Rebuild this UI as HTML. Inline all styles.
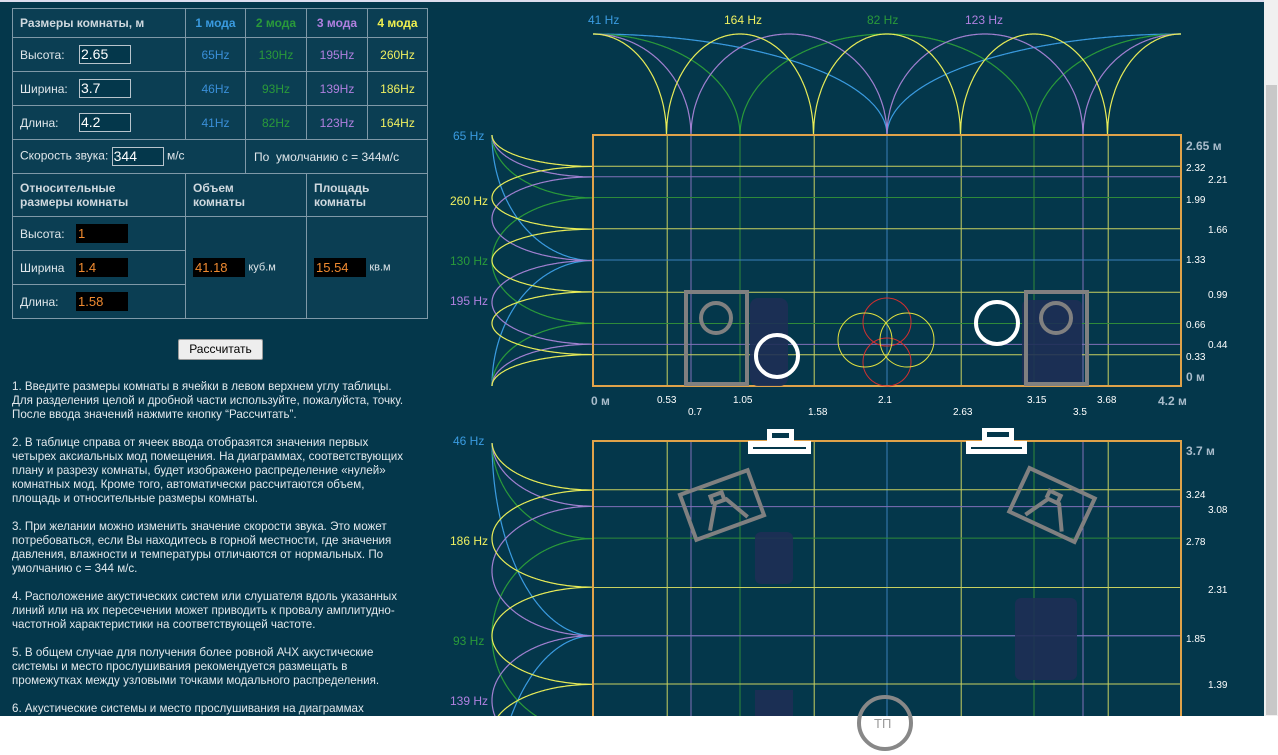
<!DOCTYPE html>
<html><head><meta charset="utf-8"><style>
*{margin:0;padding:0;box-sizing:border-box}
body{width:1278px;height:755px;overflow:hidden;background:#04374b;font-family:"Liberation Sans","DejaVu Sans",sans-serif;color:#dfe6ea;position:relative}
.t{position:absolute;left:12px;top:8px;width:416px;border-collapse:collapse;font-size:12px;background:#0b3e53}
.t td{border:1px solid #7f99a8;padding:0 7px;vertical-align:middle}
.b{font-weight:bold;color:#cfd8de}
.c{text-align:center}
.lb{display:inline-block;width:59px;vertical-align:middle}
.lb2{display:inline-block;width:56px;vertical-align:middle}
.inp{display:inline-block;border:1px solid #b8c4cc;background:#04374b;color:#fff;font-size:14px;height:19px;line-height:17px;padding-left:1px;vertical-align:middle}
.out{display:inline-block;background:#000;color:#f08a30;font-size:13px;height:19px;line-height:19px;padding-left:2px;width:52px;vertical-align:middle}
.txt{position:absolute;left:12px;top:380px;font-size:11.6px;line-height:14px;white-space:nowrap;color:#e2e8ec}
.txt p{margin-bottom:14px}
.btn{position:absolute;left:178px;top:339px;width:85px;height:21px;background:#eee;border:1px solid #999;border-radius:2px;color:#000;font-size:12px;text-align:center;line-height:19px}
</style></head><body>
<table class="t">
<tr style="height:29px"><td class="b" style="width:173px">Размеры комнаты, м</td><td class="b c" style="color:#3a9be0;width:60px">1 мода</td><td class="b c" style="color:#2a9a3a;width:61px">2 мода</td><td class="b c" style="color:#b080e0;width:61px">3 мода</td><td class="b c" style="color:#f0f050">4 мода</td></tr>
<tr style="height:34px"><td><span class="lb">Высота:</span><span class="inp" style="width:52px">2.65</span></td><td class="c" style="color:#3a8fd8">65Hz</td><td class="c" style="color:#2a9a3a">130Hz</td><td class="c" style="color:#b080e0">195Hz</td><td class="c" style="color:#f0f060">260Hz</td></tr>
<tr style="height:34px"><td><span class="lb">Ширина:</span><span class="inp" style="width:52px">3.7</span></td><td class="c" style="color:#3a8fd8">46Hz</td><td class="c" style="color:#2a9a3a">93Hz</td><td class="c" style="color:#b080e0">139Hz</td><td class="c" style="color:#f0f060">186Hz</td></tr>
<tr style="height:34px"><td><span class="lb">Длина:</span><span class="inp" style="width:52px">4.2</span></td><td class="c" style="color:#3a8fd8">41Hz</td><td class="c" style="color:#2a9a3a">82Hz</td><td class="c" style="color:#b080e0">123Hz</td><td class="c" style="color:#f0f060">164Hz</td></tr>
<tr style="height:34px"><td colspan="2">Скорость звука: <span class="inp" style="width:52px">344</span> м/с</td><td colspan="3" style="padding-left:8px">По &nbsp;умолчанию с = 344м/с</td></tr>
<tr style="height:43px"><td class="b" style="line-height:14px">Относительные<br>размеры комнаты</td><td class="b" colspan="2" style="line-height:14px">Объем<br>комнаты</td><td class="b" colspan="2" style="line-height:14px">Площадь<br>комнаты</td></tr>
<tr style="height:34px"><td><span class="lb2">Высота:</span><span class="out">1</span></td><td colspan="2" rowspan="3"><span class="out">41.18</span> <span style="font-size:11px">куб.м</span></td><td colspan="2" rowspan="3"><span class="out">15.54</span> <span style="font-size:11px">кв.м</span></td></tr>
<tr style="height:34px"><td><span class="lb2">Ширина</span><span class="out">1.4</span></td></tr>
<tr style="height:34px"><td><span class="lb2">Длина:</span><span class="out">1.58</span></td></tr>
</table>
<div class="btn">Рассчитать</div>
<div class="txt">
<p>1. Введите размеры комнаты в ячейки в левом верхнем углу таблицы.<br>Для разделения целой и дробной части используйте, пожалуйста, точку.<br>После ввода значений нажмите кнопку “Рассчитать”.</p>
<p>2. В таблице справа от ячеек ввода отобразятся значения первых<br>четырех аксиальных мод помещения. На диаграммах, соответствующих<br>плану и разрезу комнаты, будет изображено распределение «нулей»<br>комнатных мод. Кроме того, автоматически рассчитаются объем,<br>площадь и относительные размеры комнаты.</p>
<p>3. При желании можно изменить значение скорости звука. Это может<br>потребоваться, если Вы находитесь в горной местности, где значения<br>давления, влажности и температуры отличаются от нормальных. По<br>умолчанию с = 344 м/с.</p>
<p>4. Расположение акустических систем или слушателя вдоль указанных<br>линий или на их пересечении может приводить к провалу амплитудно-<br>частотной характеристики на соответствующей частоте.</p>
<p>5. В общем случае для получения более ровной АЧХ акустические<br>системы и место прослушивания рекомендуется размещать в<br>промежутках между узловыми точками модального распределения.</p>
<p>6. Акустические системы и место прослушивания на диаграммах</p>
</div>
<svg id="s" width="1278" height="755" style="position:absolute;left:0;top:0" font-family="Liberation Sans, sans-serif">
<g id="g"></g>
<g fill="#1e2f55" opacity="0.9">
<rect x="750" y="298" width="38" height="88" rx="8"/>
<rect x="1022" y="300" width="60" height="86" rx="6"/>
<rect x="755" y="532" width="38" height="52" rx="6"/>
<rect x="1015" y="598" width="62" height="82" rx="6"/>
<rect x="755" y="690" width="38" height="30"/>
</g>
<g stroke="#808080" stroke-width="4" fill="none">
<rect x="686" y="292" width="61" height="92"/>
<circle cx="716" cy="318" r="15"/>
<rect x="1026" y="292" width="61" height="92"/>
<circle cx="1056" cy="318" r="15"/>
<g transform="translate(722,505) rotate(-20)"><rect x="-36" y="-24" width="72" height="48"/><path d="M-20 20 L-6 -4 L6 -4 L20 20 M-8 -4 L-8 -12 L4 -12 L4 -4"/></g>
<g transform="translate(1052,505) rotate(25)"><rect x="-36" y="-24" width="72" height="48"/><path d="M-20 20 L-6 -4 L6 -4 L20 20 M-8 -4 L-8 -12 L4 -12 L4 -4"/></g>
</g>
<g stroke="#fff" stroke-width="4" fill="none">
<circle cx="777" cy="356" r="21"/>
<circle cx="997" cy="323" r="21"/>
</g>
<g fill="none" stroke-width="1">
<circle cx="887" cy="322" r="24" stroke="#d03030"/>
<circle cx="887" cy="362" r="24" stroke="#d03030"/>
<circle cx="865" cy="340" r="27" stroke="#e0e040"/>
<circle cx="907" cy="340" r="27" stroke="#e0e040"/>
</g>
<g fill="#fff">
<rect x="748" y="441" width="63" height="13"/><rect x="767" y="429" width="27" height="13"/>
<rect x="966" y="441" width="61" height="13"/><rect x="982" y="428" width="32" height="14"/>
</g>
<g fill="#04374b"><rect x="753" y="447" width="53" height="2"/><rect x="772" y="433" width="17" height="5"/><rect x="971" y="447" width="51" height="2"/><rect x="987" y="432" width="22" height="5"/></g>
<g font-size="12">
<text x="588" y="24" fill="#3a9be0">41 Hz</text><text x="724" y="24" fill="#f0f060">164 Hz</text><text x="867" y="24" fill="#2a9a3a">82 Hz</text><text x="965" y="24" fill="#b080e0">123 Hz</text>
<text x="453" y="140" fill="#3a9be0">65 Hz</text><text x="450" y="205" fill="#f0f060">260 Hz</text><text x="450" y="265" fill="#2a9a3a">130 Hz</text><text x="450" y="305" fill="#b080e0">195 Hz</text>
<text x="453" y="445" fill="#3a9be0">46 Hz</text><text x="450" y="545" fill="#f0f060">186 Hz</text><text x="453" y="645" fill="#2a9a3a">93 Hz</text><text x="450" y="705" fill="#b080e0">139 Hz</text>
</g>
<g font-size="10" fill="#fff">
<text x="1186" y="171">2.32</text><text x="1208" y="183">2.21</text><text x="1186" y="203">1.99</text><text x="1208" y="233">1.66</text><text x="1186" y="263">1.33</text><text x="1208" y="298">0.99</text><text x="1186" y="328">0.66</text><text x="1208" y="348">0.44</text><text x="1186" y="360">0.33</text>
<text x="657" y="403">0.53</text><text x="733" y="403">1.05</text><text x="878" y="403">2.1</text><text x="1027" y="403">3.15</text><text x="1097" y="403">3.68</text>
<text x="688" y="415">0.7</text><text x="808" y="415">1.58</text><text x="953" y="415">2.63</text><text x="1073" y="415">3.5</text>
<text x="1186" y="498">3.24</text><text x="1208" y="513">3.08</text><text x="1186" y="545">2.78</text><text x="1208" y="593">2.31</text><text x="1186" y="642">1.85</text><text x="1208" y="688">1.39</text>
</g>
<g font-size="12" font-weight="bold" fill="#a9bccb">
<text x="1186" y="150">2.65 м</text><text x="1186" y="381">0 м</text><text x="591" y="405">0 м</text><text x="1158" y="405">4.2 м</text><text x="1186" y="455">3.7 м</text>
</g>
<rect x="0" y="716" width="1278" height="39" fill="#fff"/>
<rect x="0" y="0" width="1278" height="2" fill="#dde"/>
<rect x="1264" y="0" width="14" height="716" fill="#f0f0f0"/>
<rect x="1266" y="85" width="11" height="630" fill="#c8c8c8"/>
<ellipse cx="885" cy="723" rx="26" ry="26" stroke="#888" stroke-width="4" fill="none"/>
<text x="874" y="728" font-size="13" fill="#999">ТП</text>
</svg>
<script>
var g=document.getElementById('g'),ns='http://www.w3.org/2000/svg';
function el(t,a){var e=document.createElementNS(ns,t);for(var k in a)e.setAttribute(k,a[k]);g.appendChild(e);return e}
var col={1:'#3a9be0',2:'#2a9a3a',3:'#a080d0',4:'#e8ec58'};
var lcol={1:'#3a7fb8',2:'#2f8a3a',3:'#8070b8',4:'#c8d060'};
function amp(n,v,L){var u=(n*v/L)%1;var d=Math.min(u,1-u);var t=d/0.5;if(t>1)t=1;return Math.sqrt(1-t*t);}
var X0=593,XS=140,Y0=386,YS=94.7;
[[0.53,4],[0.7,3],[1.05,2],[1.58,4],[2.1,3],[2.1,1],[2.63,4],[3.15,2],[3.5,3],[3.68,4]].forEach(function(p){
 var x=X0+XS*p[0];
 el('line',{x1:x,y1:135,x2:x,y2:386,stroke:lcol[p[1]],'stroke-width':1});
 el('line',{x1:x,y1:441,x2:x,y2:720,stroke:lcol[p[1]],'stroke-width':1});
});
[[2.32,4],[2.21,3],[1.99,2],[1.66,4],[1.33,3],[1.33,1],[0.99,4],[0.66,2],[0.44,3],[0.33,4]].forEach(function(p){
 var y=Y0-YS*p[0];el('line',{x1:593,y1:y,x2:1181,y2:y,stroke:lcol[p[1]],'stroke-width':1});});
[[3.24,4],[3.08,3],[2.78,2],[2.31,4],[1.85,1],[1.85,3],[1.39,4]].forEach(function(p){
 var y=830-105*p[0];el('line',{x1:593,y1:y,x2:1181,y2:y,stroke:lcol[p[1]],'stroke-width':1});});
[1,2,3,4].forEach(function(n){
 var N=1200,s='',i,v,y;
 for(i=0;i<=N;i++){v=4.2*i/N;s+=(X0+XS*v).toFixed(1)+','+(135-101*amp(n,v,4.2)).toFixed(1)+' ';}
 el('polyline',{points:s,fill:'none',stroke:col[n],'stroke-width':1.2});
 s='';for(i=0;i<=N;i++){v=2.65*i/N;s+=(593-101*amp(n,v,2.65)).toFixed(1)+','+(Y0-YS*v).toFixed(1)+' ';}
 el('polyline',{points:s,fill:'none',stroke:col[n],'stroke-width':1.2});
 s='';for(i=0;i<=N;i++){v=3.7*i/N;y=830-105*v;if(y<443)continue;s+=(593-101*amp(n,v,3.7)).toFixed(1)+','+y.toFixed(1)+' ';}
 el('polyline',{points:s,fill:'none',stroke:col[n],'stroke-width':1.2});
});
el('rect',{x:593,y:135,width:588,height:251,fill:'none',stroke:'#e0a24a','stroke-width':2});
el('path',{d:'M593 720 L593 441 L1181 441 L1181 720',fill:'none',stroke:'#e0a24a','stroke-width':2});
</script>
</body></html>
